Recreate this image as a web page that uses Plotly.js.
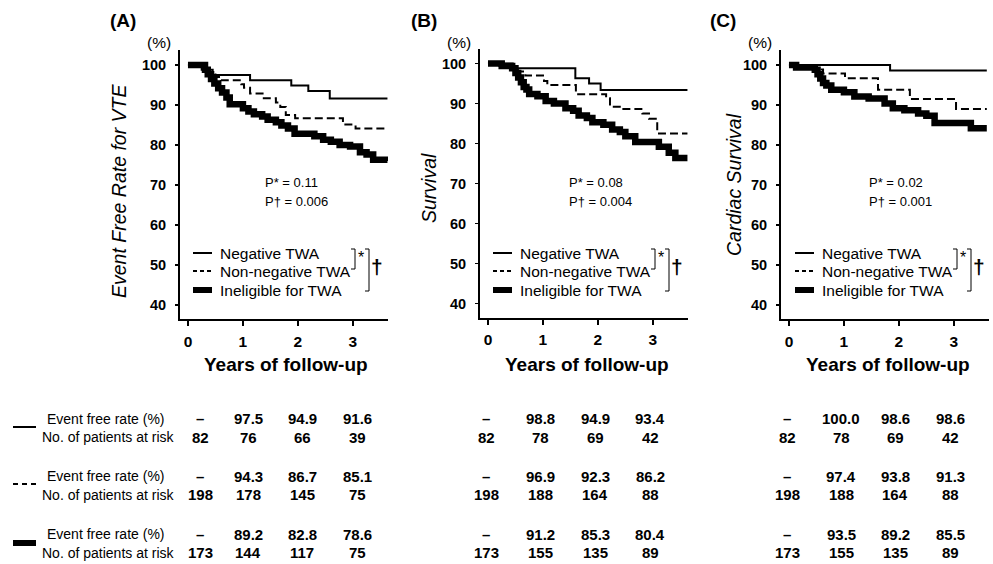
<!DOCTYPE html>
<html><head><meta charset="utf-8">
<script src="https://cdn.plot.ly/plotly-3.0.1.min.js"></script>
<style>html,body{margin:0;padding:0;background:#fff}#chart{width:993px;height:564px}</style>
</head><body><div id="chart"></div>
<script>
// ---------- DATA ----------
const panels = ["(A)", "(B)", "(C)"];
const yTitles = ["Event Free Rate for VTE", "Survival", "Cardiac Survival"];
const xTitle = "Years of follow-up";
const groups = ["Negative TWA", "Non-negative TWA", "Ineligible for TWA"];
const pStar = ["P* = 0.11", "P* = 0.08", "P* = 0.02"];
const pDagger = ["P† = 0.006", "P† = 0.004", "P† = 0.001"];
const xTicks = [0, 1, 2, 3];
const yTicks = [40, 50, 60, 70, 80, 90, 100];

// Panel A - Event free rate for VTE
const aNegT = [0, 0.25, 0.45, 1.13, 1.88, 2.19, 2.58, 3.63];
const aNegS = [100, 98.8, 97.5, 96.2, 94.9, 93.5, 91.6, 91.6];
const aNonT = [0, 0.15, 0.3, 0.4, 0.5, 0.6, 0.97, 1.02, 1.13, 1.38, 1.6, 1.68, 1.78, 1.95, 2.82, 3.05, 3.63];
const aNonS = [100, 99.5, 99.0, 98.0, 97.0, 96.2, 95.2, 94.3, 92.9, 91.7, 90.6, 89.5, 87.5, 86.7, 85.1, 84.1, 84.1];
const aIneT = [0, 0.31, 0.36, 0.42, 0.48, 0.55, 0.62, 0.7, 0.76, 1.0, 1.1, 1.2, 1.35, 1.45, 1.6, 1.7, 1.82, 1.94, 2.3, 2.46, 2.6, 2.76, 2.95, 3.13, 3.25, 3.37, 3.63];
const aIneS = [100, 98.8, 97.7, 96.5, 95.4, 94.2, 93.1, 91.9, 90.2, 89.2, 88.4, 87.7, 87.1, 86.3, 85.7, 84.9, 84.1, 82.8, 82.2, 81.3, 80.8, 80.0, 79.6, 78.2, 77.6, 76.3, 76.0];

// Panel B - Survival
const bNegT = [0, 0.45, 1.59, 1.84, 2.05, 3.63];
const bNegS = [100, 98.8, 96.3, 95.0, 93.4, 93.4];
const bNonT = [0, 0.2, 0.4, 0.55, 0.68, 1.02, 1.08, 1.6, 2.15, 2.22, 2.44, 2.81, 2.93, 3.08, 3.63];
const bNonS = [100, 99.5, 99.0, 98.0, 97.0, 95.6, 94.6, 92.3, 91.3, 89.2, 88.6, 87.5, 86.2, 82.5, 82.5];
const bIneT = [0, 0.25, 0.44, 0.5, 0.55, 0.6, 0.65, 0.7, 0.75, 0.9, 1.05, 1.2, 1.41, 1.55, 1.65, 1.8, 1.9, 2.1, 2.26, 2.4, 2.5, 2.68, 3.11, 3.29, 3.41, 3.63];
const bIneS = [100, 99.4, 98.8, 97.6, 96.5, 95.3, 94.1, 93.5, 92.4, 91.8, 90.6, 90.0, 88.8, 88.2, 87.0, 86.4, 85.3, 84.7, 83.5, 82.9, 81.8, 80.4, 79.2, 77.7, 76.4, 76.4];

// Panel C - Cardiac survival
const cNegT = [0, 1.84, 3.6];
const cNegS = [100, 98.6, 98.6];
const cNonT = [0, 0.3, 0.5, 0.62, 1.02, 1.62, 2.2, 3.04, 3.6];
const cNonS = [100, 99.5, 98.9, 97.9, 96.7, 93.8, 91.5, 89.0, 89.0];
const cIneT = [0, 0.13, 0.47, 0.52, 0.57, 0.62, 0.68, 0.77, 1.0, 1.19, 1.45, 1.74, 1.89, 2.1, 2.35, 2.5, 2.65, 3.31, 3.6];
const cIneS = [100, 99.4, 98.8, 97.7, 96.6, 95.5, 94.9, 93.8, 93.2, 92.1, 91.6, 90.4, 89.2, 88.7, 87.9, 87.3, 85.5, 84.2, 84.2];

// Table below plots
const rowLabels = ["Event free rate (%)", "No. of patients at risk"];
const rateA = [["–", "97.5", "94.9", "91.6"], ["–", "94.3", "86.7", "85.1"], ["–", "89.2", "82.8", "78.6"]];
const riskA = [["82", "76", "66", "39"], ["198", "178", "145", "75"], ["173", "144", "117", "75"]];
const rateB = [["–", "98.8", "94.9", "93.4"], ["–", "96.9", "92.3", "86.2"], ["–", "91.2", "85.3", "80.4"]];
const riskB = [["82", "78", "69", "42"], ["198", "188", "164", "88"], ["173", "155", "135", "89"]];
const rateC = [["–", "100.0", "98.6", "98.6"], ["–", "97.4", "93.8", "91.3"], ["–", "93.5", "89.2", "85.5"]];
const riskC = [["82", "78", "69", "42"], ["198", "188", "164", "88"], ["173", "155", "135", "89"]];

// ---------- STYLE / LAYOUT ----------
const W = 993, H = 564;
const PX = x => x / W, PY = y => 1 - y / H;
const FONT = "Liberation Sans, Arial, sans-serif";
const styles = [
  {color: "#000", width: 2, dash: "solid"},
  {color: "#000", width: 2, dash: "8px,4px"},
  {color: "#000", width: 6.5, dash: "solid"}
];
const curves = [
  [[aNegT, aNegS], [aNonT, aNonS], [aIneT, aIneS]],
  [[bNegT, bNegS], [bNonT, bNonS], [bIneT, bIneS]],
  [[cNegT, cNegS], [cNonT, cNonS], [cIneT, cIneS]]
];
const rates = [rateA, rateB, rateC];
const risks = [riskA, riskB, riskC];

const axX = [180, 480, 781];
const axTop = [50, 48.5, 50];
const axBot = [319, 317.5, 319];
const axW = 208;
const dx = [0, 300, 602];
const tableCols = [[200, 248, 302, 357], [486, 540, 595, 650], [787, 841, 895, 950]];
const tableRowsY = [[418.5, 437], [476, 494.5], [534, 552.5]];

const traces = [];
const layout = {
  width: W, height: H, margin: {l: 0, r: 0, t: 0, b: 0},
  paper_bgcolor: "#fff", plot_bgcolor: "#fff", showlegend: false,
  font: {family: FONT, color: "#000"},
  annotations: [], shapes: []
};

for (let p = 0; p < 3; p++) {
  const sfx = p === 0 ? "" : String(p + 1);
  const xa = "x" + sfx, ya = "y" + sfx;
  curves[p].forEach((c, g) => {
    traces.push({
      type: "scatter", mode: "lines", x: c[0], y: c[1], xaxis: xa, yaxis: ya,
      line: {shape: "hv", color: styles[g].color, width: styles[g].width, dash: styles[g].dash},
      hoverinfo: "skip", name: groups[g]
    });
  });
  layout["xaxis" + sfx] = {
    domain: [PX(axX[p]), PX(axX[p] + axW)], anchor: ya, range: [-0.145, 3.64],
    tickvals: xTicks, ticks: "outside", ticklen: 5, tickwidth: 1.5, tickcolor: "#000",
    showline: true, linewidth: 2, linecolor: "#000", showgrid: false, zeroline: false,
    tickfont: {family: FONT, size: 15.5, weight: "bold", color: "#000"}, ticklabelstandoff: 2
  };
  layout["yaxis" + sfx] = {
    domain: [PY(axBot[p]), PY(axTop[p])], anchor: xa, range: [36.5, 103.75],
    tickvals: yTicks, ticks: "outside", ticklen: 3, tickwidth: 1.5, tickcolor: "#000",
    showline: true, linewidth: 2, linecolor: "#000", showgrid: false, zeroline: false,
    tickfont: {family: FONT, size: 14.5, weight: "bold", color: "#000"}, ticklabelstandoff: 6
  };
  const A = layout.annotations, S = layout.shapes;
  const ann = (text, x, y, o) => A.push(Object.assign({
    text, x: PX(x), y: PY(y), xref: "paper", yref: "paper", showarrow: false,
    xanchor: "center", yanchor: "middle", font: {family: FONT, size: 14, color: "#000"}
  }, o || {}));
  ann(panels[p], [123, 424, 723][p], 20, {font: {family: FONT, size: 19, weight: "bold", color: "#000"}});
  ann("(%)", [159, 459, 760][p], 42, {font: {family: FONT, size: 15.5, color: "#000"}});
  ann(yTitles[p], [119, 429, 734][p], [191, 188, 185][p], {textangle: -90,
    font: {family: FONT, size: 19.5, style: "italic", color: "#000"}});
  ann(xTitle, [286, 587, 888][p], 364, {font: {family: FONT, size: 19, weight: "bold", color: "#000"}});
  const pl = [263, 567, 867][p];
  ann(pStar[p], pl, 182, {xanchor: "left", font: {family: FONT, size: 13, color: "#000"}});
  ann(pDagger[p], pl, 201, {xanchor: "left", font: {family: FONT, size: 13, color: "#000"}});
  const lx = 193 + dx[p];
  const ly = [253, 271, 290];
  const legDash = ["solid", "4px,3px", "solid"];
  const legW = [2, 2, 6];
  for (let g = 0; g < 3; g++) {
    S.push({type: "line", xref: "paper", yref: "paper", x0: PX(lx), x1: PX(lx + 19), y0: PY(ly[g]), y1: PY(ly[g]),
      line: {color: "#000", width: legW[g], dash: legDash[g]}});
    ann(groups[g], lx + 25, ly[g], {xanchor: "left", font: {family: FONT, size: 15.5, color: "#000"}});
  }
  const b1 = 355 + dx[p], b2 = 369 + dx[p];
  S.push({type: "path", xref: "paper", yref: "paper",
    path: `M ${PX(b1 - 4)},${PY(249)} L ${PX(b1)},${PY(249)} L ${PX(b1)},${PY(269)} L ${PX(b1 - 4)},${PY(269)}`,
    line: {color: "#000", width: 1}});
  S.push({type: "path", xref: "paper", yref: "paper",
    path: `M ${PX(b2 - 4)},${PY(249)} L ${PX(b2)},${PY(249)} L ${PX(b2)},${PY(291)} L ${PX(b2 - 4)},${PY(291)}`,
    line: {color: "#000", width: 1}});
  ann("*", b1 + 6, 257, {font: {family: FONT, size: 16, color: "#000"}});
  ann("†", b2 + 8, 267, {font: {family: FONT, size: 21, weight: "bold", color: "#000"}});
  for (let g = 0; g < 3; g++) {
    for (let k = 0; k < 4; k++) {
      ann(rates[p][g][k], tableCols[p][k], tableRowsY[g][0], {font: {family: FONT, size: 15, weight: "bold", color: "#000"}});
      ann(risks[p][g][k], tableCols[p][k], tableRowsY[g][1], {font: {family: FONT, size: 15, weight: "bold", color: "#000"}});
    }
  }
}
const sampY = [427, 484, 543];
const sampDash = ["solid", "5px,4px", "solid"];
const sampW = [2, 2, 6];
for (let g = 0; g < 3; g++) {
  layout.annotations.push({text: rowLabels[0], x: PX(106), y: PY(tableRowsY[g][0]), xref: "paper", yref: "paper",
    showarrow: false, xanchor: "center", yanchor: "middle", font: {family: FONT, size: 14, color: "#000"}});
  layout.annotations.push({text: rowLabels[1], x: PX(108), y: PY(tableRowsY[g][1]), xref: "paper", yref: "paper",
    showarrow: false, xanchor: "center", yanchor: "middle", font: {family: FONT, size: 14, color: "#000"}});
  layout.shapes.push({type: "line", xref: "paper", yref: "paper", x0: PX(13), x1: PX(36), y0: PY(sampY[g]), y1: PY(sampY[g]),
    line: {color: "#000", width: sampW[g], dash: sampDash[g]}});
}

Plotly.newPlot("chart", traces, layout, {staticPlot: true, displayModeBar: false});
</script>
</body></html>
